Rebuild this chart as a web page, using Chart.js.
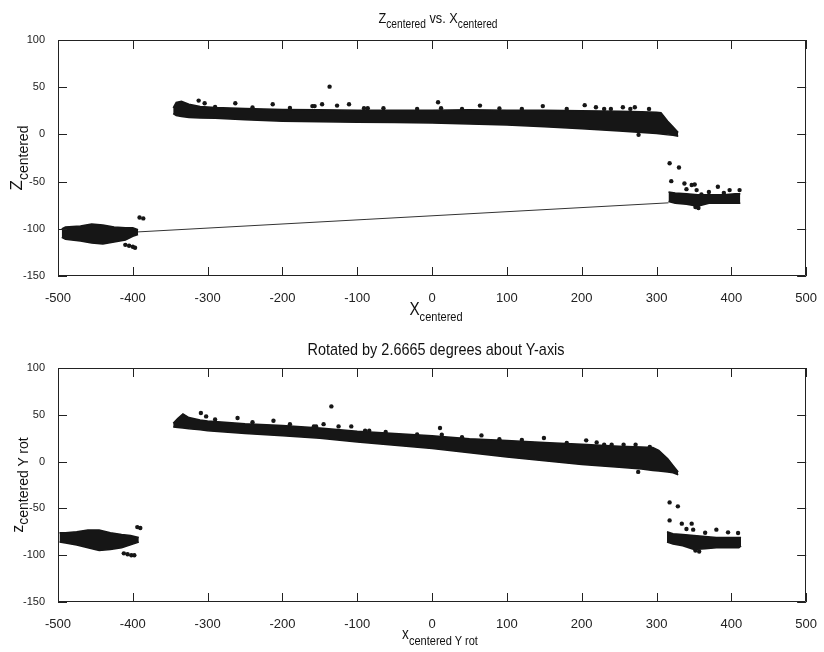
<!DOCTYPE html>
<html>
<head>
<meta charset="utf-8">
<script src="https://cdn.jsdelivr.net/npm/chart.js@4.4.1/dist/chart.umd.min.js"></script>
<style>
  body { margin: 0; background: #fff; }
  #wrap { position: relative; width: 824px; height: 652px; overflow: hidden; }
  canvas { position: absolute; left: 0; }
  .lbl { position: absolute; font-family: 'Liberation Sans Narrow', 'Liberation Sans', sans-serif; color: #111; white-space: nowrap; line-height: 1; transform: translateX(-50%) scaleX(0.85); }
  .lbl sub { vertical-align: -0.45em; }
  .rot { position: absolute; font-family: 'Liberation Sans', Arial, sans-serif; color: #111; white-space: nowrap; line-height: 1; transform: translate(-50%, -50%) rotate(-90deg); }
  .rot sub { vertical-align: -0.4em; }
</style>
</head>
<body>
<div id="wrap">
  <canvas id="top" width="824" height="310" style="top:0"></canvas>
  <canvas id="bot" width="824" height="342" style="top:310px"></canvas>

  <div class="lbl" style="left:438px; top:10px; font-size:15px">Z<sub style="font-size:12px">centered</sub> vs. X<sub style="font-size:12px">centered</sub></div>
  <div class="lbl" style="left:436px; top:300px; font-size:18px">X<sub style="font-size:13px">centered</sub></div>
  <div class="rot" style="left:19px; top:158px; font-size:17px">Z<sub style="font-size:14px">centered</sub></div>

  <div class="lbl" style="left:436px; top:341px; font-size:17px">Rotated by 2.6665 degrees about Y-axis</div>
  <div class="lbl" style="left:440px; top:626px; font-size:16px">x<sub style="font-size:13px">centered Y rot</sub></div>
  <div class="rot" style="left:20px; top:485px; font-size:16px">z<sub style="font-size:14px">centered Y rot</sub></div>
</div>

<script>
// eixos
const xTickValues = [-500, -400, -300, -200, -100, 0, 100, 200, 300, 400, 500];
const yTickValues = [-150, -100, -50, 0, 50, 100];

// --- Z vs X (topo) ---
const topMainX  = [-346, -342, -335, -325, -310, -290, -250, -200, -150, -100, -50, 0, 50, 100, 150, 200, 250, 280, 300, 306, 315, 322, 329];
const topMainHi = [28, 34, 35, 32, 29.5, 28.5, 27.5, 26.5, 26, 25.5, 25.5, 25.5, 26, 25.5, 25.5, 25, 24.5, 24, 23.5, 23, 14, 8, 2];
const topMainLo = [22, 20, 19, 18, 17.5, 17, 15.5, 14, 13.5, 13, 12.5, 12, 11, 10, 8, 6, 3.5, 2, 1, 0.5, -0.5, -1, -2];

const topLeftX  = [-495, -490, -470, -455, -440, -425, -410, -400, -393];
const topLeftHi = [-100, -98, -97, -95, -96, -98, -99, -99, -101];
const topLeftLo = [-109, -111, -113, -115, -116, -114, -112, -108, -106];

const topRightX  = [316, 325, 340, 355, 370, 390, 405, 412];
const topRightHi = [-61, -62, -63, -64, -64, -64, -63, -63];
const topRightLo = [-71, -73, -74, -76, -73, -73, -73, -73];

const topLineX = [-490, 316];
const topLineY = [-107.5, -72.5];

const topOutX = [-312, -304, -263, -213, -160, -157, -147, -137, -127, -111, -91, -86, -65, 8, 12, 64, 148, 204, 219, 239, 255, 271, 290, 276,
  -290, -240, -190, -20, 40, 90, 120, 180, 230, 265,
  -410, -405, -400, -397, -391, -386,
  317.5, 330, 319.7, 337.3, 347, 351, 353.6, 360, 382, 397.7, 411, 352, 356, 340, 370, 390];
const topOutY = [35.8, 33, 33, 32, 30, 30, 32, 50.6, 30.5, 32, 27.7, 27.7, 27.7, 34, 27.7, 30.5, 30, 31, 28.8, 27, 28.8, 28.8, 27, -0.5,
  29, 28.5, 28, 27, 27, 27.5, 27, 27, 27, 27,
  -117, -118, -119, -120, -88, -89,
  -30.6, -35, -49.5, -52, -53.6, -53, -59, -63.5, -55.4, -59, -59, -77, -78, -58, -61, -62];

// --- rotacionado (baixo) ---
const botMainX  = [-346, -340, -333, -325, -310, -300, -250, -200, -150, -100, -50, 0, 50, 100, 150, 200, 250, 280, 295, 303, 315, 322, 329];
const botMainHi = [41, 46, 51, 47, 44.5, 43.5, 40.5, 38.5, 36, 32.5, 30, 27.5, 24.5, 22.5, 20.5, 18.5, 16.5, 15.5, 15, 12, 3, -4, -11];
const botMainLo = [37, 36.5, 36, 35, 34, 33, 30, 27.5, 25, 21, 17.5, 14, 9.5, 5, 1, -3, -6, -8, -9.5, -10, -11, -12, -14];

const botLeftX  = [-498, -490, -475, -460, -445, -430, -415, -403, -392];
const botLeftHi = [-76, -76, -75, -73, -73, -76, -78, -79, -81];
const botLeftLo = [-86, -87, -89, -92, -95, -94, -92, -89, -86];

const botRightX  = [314, 322, 335, 350, 365, 380, 395, 410, 413];
const botRightHi = [-75, -77, -78, -79, -80, -81, -81, -81, -81];
const botRightLo = [-86, -88, -90, -94, -93, -92, -92, -92, -90];

const botOutX = [-309, -302, -260, -212, -158, -155, -145, -134.6, -125, -108, -89.5, -84, -62, 10.6, 13, 66, 149.5, 206, 220, 240, 256, 272, 291, 275.5,
  -290, -240, -190, -20, 40, 90, 120, 180, 230,
  -412, -407, -402, -398, -394, -390,
  317.5, 328.5, 317.5, 333.8, 347, 349, 380, 395.6, 409, 352, 357, 340, 365];
const botOutY = [52, 48.3, 46.6, 43.7, 37.6, 37.6, 40, 59, 37.6, 37.6, 33, 33, 31.6, 35.9, 28.7, 28, 25.2, 22.7, 20.5, 18, 18, 18, 15.6, -11,
  45, 42, 40, 29, 26, 24, 23, 20, 18,
  -98, -99, -100, -100, -70, -71,
  -43.6, -47.8, -62.8, -66.3, -66.3, -72.7, -72.7, -75.6, -76.3, -95, -96, -72, -76];

const cor = '#161616';

function pts(xs, ys) {
  return xs.map((x, i) => ({ x: x, y: ys[i] }));
}

function faixa(xs, hi, lo) {
  // limite superior preenchido ate o inferior
  return [
    { data: pts(xs, hi), borderColor: cor, backgroundColor: cor, borderWidth: 1.5, pointRadius: 0, tension: 0, fill: '+1' },
    { data: pts(xs, lo), borderColor: cor, borderWidth: 1.5, pointRadius: 0, tension: 0, fill: false }
  ];
}

function pontos(xs, ys) {
  return { data: pts(xs, ys), showLine: false, pointRadius: 2.2, pointBackgroundColor: cor, pointBorderWidth: 0 };
}

// caixa com marcas para dentro, estilo matlab
const caixa = {
  id: 'caixa',
  afterDatasetsDraw(chart) {
    const { ctx, chartArea: a, scales: { x, y } } = chart;
    ctx.save();
    ctx.strokeStyle = '#222';
    ctx.lineWidth = 1;
    ctx.beginPath();
    x.ticks.forEach(t => {
      const px = Math.round(x.getPixelForValue(t.value)) + 0.5;
      ctx.moveTo(px, a.bottom); ctx.lineTo(px, a.bottom - 9);
      ctx.moveTo(px, a.top); ctx.lineTo(px, a.top + 9);
    });
    y.ticks.forEach(t => {
      const py = Math.round(y.getPixelForValue(t.value)) + 0.5;
      ctx.moveTo(a.left, py); ctx.lineTo(a.left + 9, py);
      ctx.moveTo(a.right, py); ctx.lineTo(a.right - 9, py);
    });
    ctx.rect(Math.round(a.left) + 0.5, Math.round(a.top) + 0.5, Math.round(a.width) - 1, Math.round(a.height) - 1);
    ctx.stroke();
    ctx.restore();
  }
};

const fonteTicks = "'Liberation Sans Narrow', 'Liberation Sans', Arial, sans-serif";

function opcoes(padTop, padBottom) {
  return {
    responsive: false,
    animation: false,
    layout: { padding: { top: padTop, left: 18, right: 10, bottom: padBottom } },
    plugins: { legend: { display: false }, tooltip: { enabled: false } },
    scales: {
      x: {
        type: 'linear', min: -500, max: 500,
        afterBuildTicks: s => { s.ticks = xTickValues.map(v => ({ value: v })); },
        afterFit: s => { s.height = 30; },
        grid: { display: false },
        border: { display: false },
        ticks: { color: '#222', padding: 7, font: { family: fonteTicks, size: 13 } }
      },
      y: {
        min: -150, max: 100,
        afterBuildTicks: s => { s.ticks = yTickValues.map(v => ({ value: v })); },
        afterFit: s => { s.width = 40; },
        grid: { display: false },
        border: { display: false },
        ticks: { color: '#222', padding: 5, font: { family: fonteTicks, size: 11 } }
      }
    }
  };
}

new Chart(document.getElementById('top').getContext('2d'), {
  type: 'line',
  data: {
    datasets: [
      ...faixa(topMainX, topMainHi, topMainLo),
      ...faixa(topLeftX, topLeftHi, topLeftLo),
      ...faixa(topRightX, topRightHi, topRightLo),
      { data: pts(topLineX, topLineY), borderColor: '#333', borderWidth: 1, pointRadius: 0, fill: false },
      pontos(topOutX, topOutY)
    ]
  },
  options: opcoes(40, 4),
  plugins: [caixa]
});

new Chart(document.getElementById('bot').getContext('2d'), {
  type: 'line',
  data: {
    datasets: [
      ...faixa(botMainX, botMainHi, botMainLo),
      ...faixa(botLeftX, botLeftHi, botLeftLo),
      ...faixa(botRightX, botRightHi, botRightLo),
      pontos(botOutX, botOutY)
    ]
  },
  options: opcoes(58, 20),
  plugins: [caixa]
});
</script>
</body>
</html>
